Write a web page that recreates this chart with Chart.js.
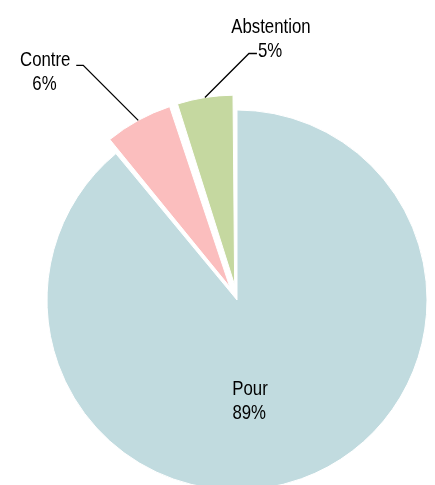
<!DOCTYPE html>
<html>
<head>
<meta charset="utf-8">
<script src="https://cdn.jsdelivr.net/npm/chart.js@4/dist/chart.umd.min.js"></script>
<style>
  body { margin: 0; background: #fff; }
  canvas { display: block; }
</style>
</head>
<body>
<canvas id="vote-pie" width="435" height="485"></canvas>
<script>
var labels = ['Pour', 'Contre', 'Abstention'];
var values = [89, 6, 5];
var colors = ['#C1DBDF', '#FBBEBE', '#C5D8A0'];
var explode = [0, 60, 60];

var FONT = '21px "Liberation Sans", Arial, sans-serif';
var NARROW = 0.8; // source font is a narrow sans

// extra radius chart.js adds to an exploded arc when it draws it
function radiusGrow(arc) {
  const off = (arc.options.offset || 0) / 4;
  return off * (1 - Math.sin(Math.min(Math.PI, arc.circumference)));
}

// undo that growth so all slices keep one radius
const radiusFix = {
  id: 'radiusFix',
  afterDatasetUpdate: (chart, args) => {
    args.meta.data.forEach(function(arc) {
      arc.outerRadius -= radiusGrow(arc);
    });
  }
};

// label layout: inside offset from centre, or elbow/tail/text offsets from the arc edge
var labelLayout = [
  {inside: true, dx: 13, dy: 95},
  {elbow: [-55, -55], tail: -7, text: [-93, -54]},
  {elbow: [44, -44], tail: 8, text: [66, -65]}
];

const pieLabels = {
  id: 'pieLabels',
  afterDatasetsDraw: (chart) => {
    const {ctx} = chart;
    const meta = chart.getDatasetMeta(0);
    const total = values.reduce((a, b) => a + b, 0);
    ctx.save();
    ctx.font = FONT;
    ctx.fillStyle = '#000';
    ctx.textAlign = 'center';
    ctx.textBaseline = 'alphabetic';
    meta.data.forEach(function(arc, i) {
      const lay = labelLayout[i];
      const pct = Math.round(values[i] / total * 100) + '%';
      const mid = (arc.startAngle + arc.endAngle) / 2;
      const shift = (arc.options.offset || 0) / 4;
      const cx = arc.x + Math.cos(mid) * shift;
      const cy = arc.y + Math.sin(mid) * shift;
      let tx, ty;
      if (lay.inside) {
        tx = cx + lay.dx;
        ty = cy + lay.dy;
      } else {
        const r = arc.outerRadius + radiusGrow(arc);
        const px = cx + Math.cos(mid) * r;
        const py = cy + Math.sin(mid) * r;
        const ex = px + lay.elbow[0], ey = py + lay.elbow[1];
        ctx.strokeStyle = '#000';
        ctx.lineWidth = 1.3;
        ctx.beginPath();
        ctx.moveTo(px, py);
        ctx.lineTo(ex, ey);
        ctx.lineTo(ex + lay.tail, ey);
        ctx.stroke();
        tx = px + lay.text[0];
        ty = py + lay.text[1];
      }
      ctx.save();
      ctx.translate(tx, ty);
      ctx.scale(NARROW, 1);
      ctx.fillText(labels[i], 0, 0);
      ctx.fillText(pct, -1, 24);
      ctx.restore();
    });
    ctx.restore();
  }
};

var pie_config = {
  type: 'pie',
  data: {
    labels: labels,
    datasets: [{
      data: values,
      backgroundColor: colors,
      borderColor: '#ffffff',
      borderWidth: 1,
      offset: explode,
      radius: 190,
      clip: false
    }]
  },
  options: {
    responsive: false,
    animation: false,
    layout: {
      padding: {left: 39, top: 115, right: 0, bottom: 0}
    },
    plugins: {
      legend: {display: false},
      tooltip: {enabled: false}
    }
  },
  plugins: [radiusFix, pieLabels]
};

window.onload = function() {
  var ctx = document.getElementById('vote-pie').getContext('2d');
  window.votePie = new Chart(ctx, pie_config);
};
</script>
</body>
</html>
